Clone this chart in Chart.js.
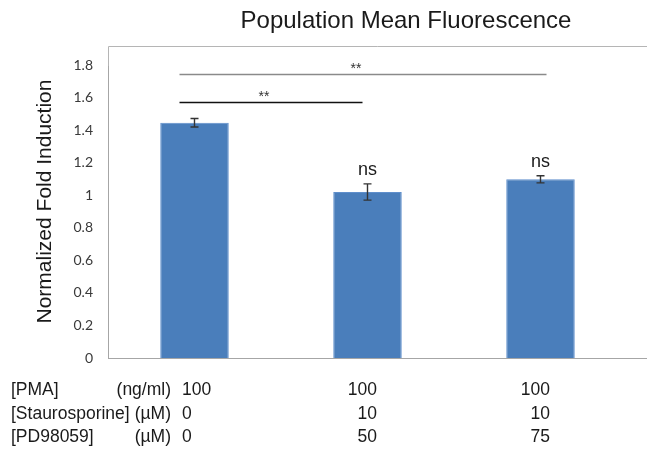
<!DOCTYPE html>
<html><head><meta charset="utf-8">
<script src="https://cdn.jsdelivr.net/npm/chart.js@4.4.0/dist/chart.umd.min.js"></script>
<style>html,body{margin:0;padding:0;background:#fff;overflow:hidden}#wrap{width:647px;height:452px}</style>
</head><body><div id="wrap"><canvas id="c" width="647" height="452"></canvas></div>
<script>
// ---- data ----
const categories = ['PMA', 'PMA + Staurosporine + PD98059 50', 'PMA + Staurosporine + PD98059 75'];
const meanFold = [1.445, 1.02, 1.098];
const errFold = [0.026, 0.05, 0.022];
const sigLabels = ['', 'ns', 'ns'];
const compFrom = [0, 0];
const compTo = [1, 2];
const compLevel = [1.571, 1.743];
const compLabel = ['**', '**'];
const yTickLabels = ['0', '0.2', '0.4', '0.6', '0.8', '1', '1.2', '1.4', '1.6', '1.8'];
const rowNames = ['[PMA]', '[Staurosporine]', '[PD98059]'];
const rowUnits = ['(ng/ml)', '(µM)', '(µM)'];
const pmaDose = ['100', '100', '100'];
const stauroDose = ['0', '10', '10'];
const pdDose = ['0', '50', '75'];
const titleText = 'Population Mean Fluorescence';
const yTitleText = 'Normalized Fold Induction';

const FONT = '"Liberation Sans", Arial, sans-serif';
const TXT = '#1a1a1a';

const extras = {
  id: 'extras',
  afterDatasetsDraw(chart) {
    const ctx = chart.ctx;
    const xs = chart.scales.x, ys = chart.scales.y;
    const ca = chart.chartArea;
    const meta = chart.getDatasetMeta(0);
    ctx.save();
    // plot frame (top line, left extension, bottom extension)
    const frameTop = 46.5;
    const lx = Math.round(ca.left) + 0.5;
    ctx.strokeStyle = '#b5b5b5';
    ctx.lineWidth = 1;
    ctx.beginPath();
    ctx.moveTo(lx, ca.top + 1);
    ctx.lineTo(lx, frameTop);
    ctx.lineTo(chart.width, frameTop);
    ctx.stroke();
    ctx.strokeStyle = '#a6a6a6';
    ctx.beginPath();
    ctx.moveTo(ca.right, Math.round(ca.bottom) + 0.5);
    ctx.lineTo(chart.width, Math.round(ca.bottom) + 0.5);
    ctx.stroke();

    // error bars
    ctx.strokeStyle = '#333';
    ctx.lineWidth = 1.4;
    meanFold.forEach((m, i) => {
      const x = meta.data[i].x;
      const yt = ys.getPixelForValue(m + errFold[i]);
      const yb = ys.getPixelForValue(m - errFold[i]);
      ctx.beginPath();
      ctx.moveTo(x, yt); ctx.lineTo(x, yb);
      ctx.moveTo(x - 4, yt); ctx.lineTo(x + 4, yt);
      ctx.moveTo(x - 4, yb); ctx.lineTo(x + 4, yb);
      ctx.stroke();
      if (sigLabels[i]) {
        ctx.fillStyle = TXT;
        ctx.font = '18px ' + FONT;
        ctx.textAlign = 'center';
        ctx.textBaseline = 'middle';
        ctx.fillText(sigLabels[i], x, yt - 13.5);
      }
    });

    // significance lines
    const endShift = [-5, 6];
    const lineCols = ['#111', '#8a8a8a'];
    compLevel.forEach((lv, k) => {
      const x1 = xs.getPixelForValue(compFrom[k]) - 15;
      const x2 = xs.getPixelForValue(compTo[k]) + endShift[k];
      const y = Math.round(ys.getPixelForValue(lv)) + 0.5;
      ctx.strokeStyle = lineCols[k];
      ctx.lineWidth = 1.5;
      ctx.beginPath(); ctx.moveTo(x1, y); ctx.lineTo(x2, y); ctx.stroke();
      ctx.fillStyle = '#333';
      ctx.font = '14px ' + FONT;
      ctx.textAlign = 'center';
      ctx.textBaseline = 'alphabetic';
      ctx.fillText(compLabel[k], (x1 + x2) / 2 - 7, y - 2);
    });

    // title
    ctx.fillStyle = TXT;
    ctx.font = '24px ' + FONT;
    ctx.textAlign = 'center';
    ctx.textBaseline = 'middle';
    ctx.fillText(titleText, 406, 21);

    // y axis title
    ctx.save();
    ctx.translate(45, 201.5);
    ctx.rotate(-Math.PI / 2);
    ctx.font = '21px ' + FONT;
    ctx.textAlign = 'center';
    ctx.textBaseline = 'middle';
    ctx.fillText(yTitleText, 0, 0);
    ctx.restore();

    // condition table
    const rows = [pmaDose, stauroDose, pdDose];
    const rowY = [390, 414, 437];
    ctx.font = '17.5px ' + FONT;
    ctx.textBaseline = 'middle';
    rows.forEach((vals, r) => {
      ctx.textAlign = 'left';
      ctx.fillText(rowNames[r], 11, rowY[r]);
      ctx.textAlign = 'right';
      ctx.fillText(rowUnits[r], 171, rowY[r]);
      vals.forEach((v, c) => {
        const cx = xs.getPixelForValue(c);
        if (c === 0) { ctx.textAlign = 'left'; ctx.fillText(v, cx - 12.5, rowY[r]); }
        else { ctx.textAlign = 'right'; ctx.fillText(v, cx + 9.5, rowY[r]); }
      });
    });
    ctx.restore();
  }
};

new Chart(document.getElementById('c'), {
  type: 'bar',
  data: {
    labels: categories,
    datasets: [{
      data: meanFold,
      backgroundColor: '#4a7ebb',
      borderColor: '#5f8fcc',
      borderWidth: 1,
      categoryPercentage: 1,
      barPercentage: 0.396
    }]
  },
  options: {
    responsive: false,
    animation: false,
    layout: { padding: { top: 65, right: 20, left: 0, bottom: 0 } },
    plugins: { legend: { display: false }, tooltip: { enabled: false }, title: { display: false } },
    scales: {
      x: {
        grid: { display: false },
        border: { display: true, color: '#a6a6a6', width: 1 },
        ticks: { display: false },
        afterFit: s => { s.height = 94; }
      },
      y: {
        min: 0, max: 1.8,
        grid: { display: false, drawTicks: false },
        border: { display: true, color: '#a6a6a6', width: 1 },
        ticks: {
          stepSize: 0.2,
          padding: 15,
          color: '#3a3a3a',
          font: { family: 'Lato', size: 14 },
          callback: (v, i) => yTickLabels[i]
        },
        title: { display: false },
        afterFit: s => { s.width = 108; }
      }
    }
  },
  plugins: [extras]
});
</script>
</body></html>
